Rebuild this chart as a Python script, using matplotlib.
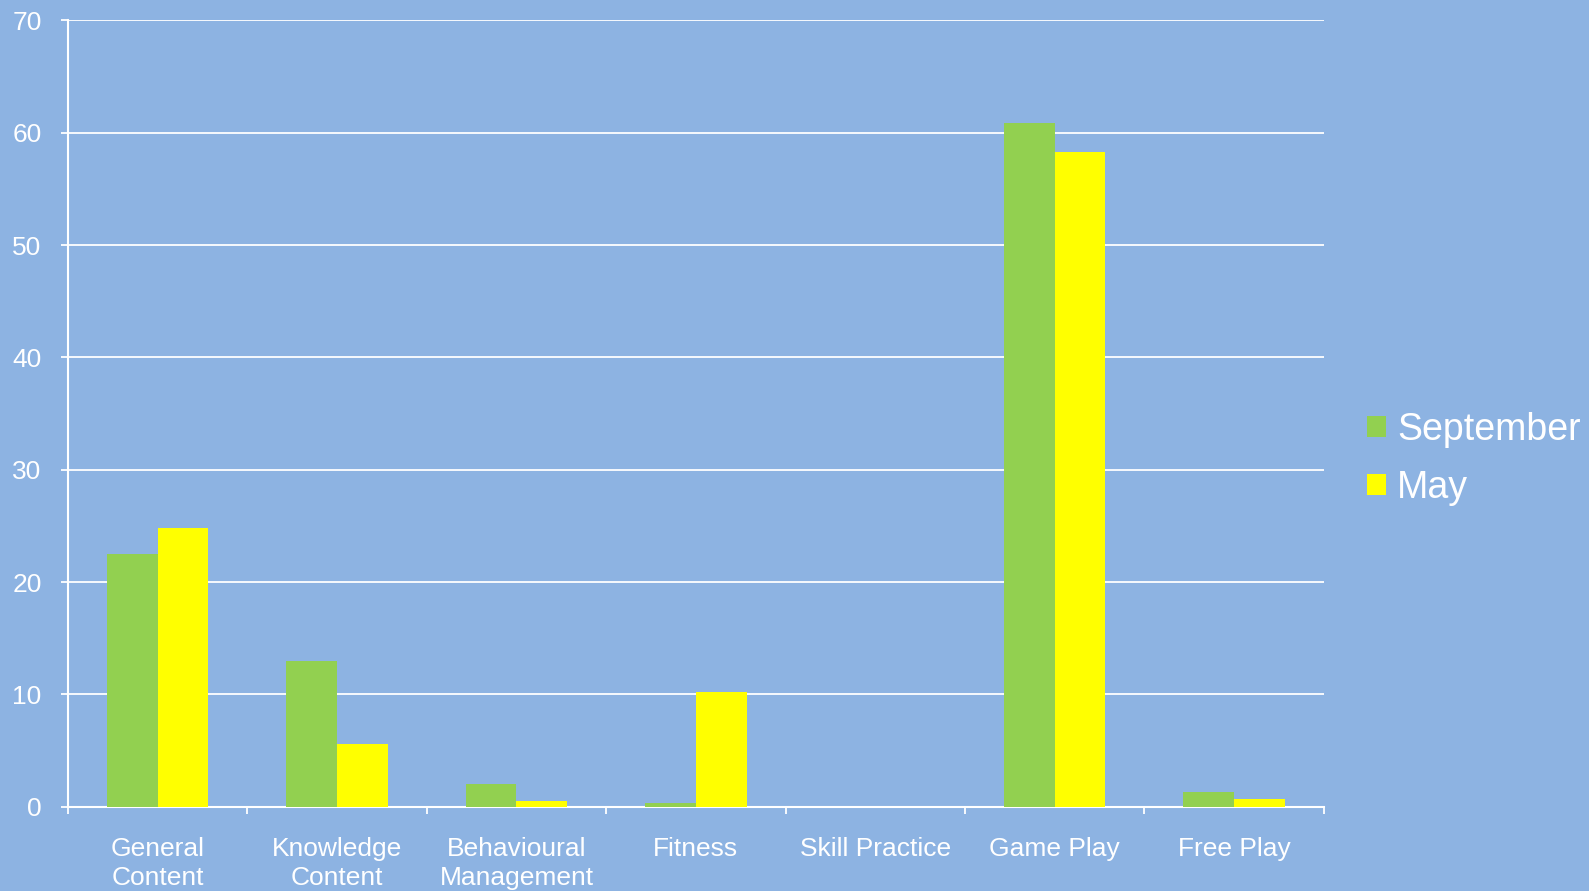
import matplotlib
matplotlib.use("Agg")
import matplotlib.pyplot as plt
import numpy as np

categories = ["General\nContent", "Knowledge\nContent", "Behavioural\nManagement",
              "Fitness", "Skill Practice", "Game Play", "Free Play"]
september = [22.5, 13.0, 2.0, 0.3, 0.0, 60.9, 1.3]
may = [24.8, 5.6, 0.5, 10.2, 0.0, 58.3, 0.7]
yticks = [0, 10, 20, 30, 40, 50, 60, 70]

bg = "#8DB3E2"
green = "#92D050"
yellow = "#FFFF00"

plt.rcParams['font.family'] = ['Liberation Sans', 'DejaVu Sans']

fig = plt.figure(figsize=(15.89, 8.91), dpi=100, facecolor=bg)
ax = fig.add_axes([0.0428, 0.0946, 0.7902, 0.8824], facecolor=bg)

x = np.arange(len(categories))
w = 0.283
ax.bar(x - w / 2, september, w, color=green, label="September", zorder=3)
ax.bar(x + w / 2, may, w, color=yellow, label="May", zorder=3)

ax.set_xlim(-0.5, len(categories) - 0.5)
ax.set_ylim(0, 70)
ax.set_yticks(yticks)
ax.yaxis.grid(True, color="white", linewidth=1.3, zorder=1)
ax.set_axisbelow(True)

ax.set_xticks(np.arange(len(categories) + 1) - 0.5)
ax.set_xticklabels([])
ax.set_xticks(x, minor=True)
ax.set_xticklabels(categories, minor=True, fontsize=19, color="white", linespacing=1.28)
ax.tick_params(axis="x", which="minor", length=0, pad=21.5)
ax.tick_params(axis="x", which="major", length=5, width=1.3, color="white", direction="out")
ax.tick_params(axis="y", length=5, width=1.3, color="white", labelcolor="white",
               labelsize=19, pad=14)
for lbl in ax.get_xticklabels(minor=True):
    lbl.set_verticalalignment("top")

for s in ["top", "right"]:
    ax.spines[s].set_visible(False)
for s in ["left", "bottom"]:
    ax.spines[s].set_color("white")
    ax.spines[s].set_linewidth(1.5)

leg = fig.legend(loc="center left", bbox_to_anchor=(0.8485, 0.485), frameon=False,
                 fontsize=27, handlelength=0.5, handleheight=0.5, handletextpad=0.3,
                 labelspacing=0.58, borderpad=0)
for t in leg.get_texts():
    t.set_color("white")

fig.savefig("out.png", dpi=100, facecolor=bg)
